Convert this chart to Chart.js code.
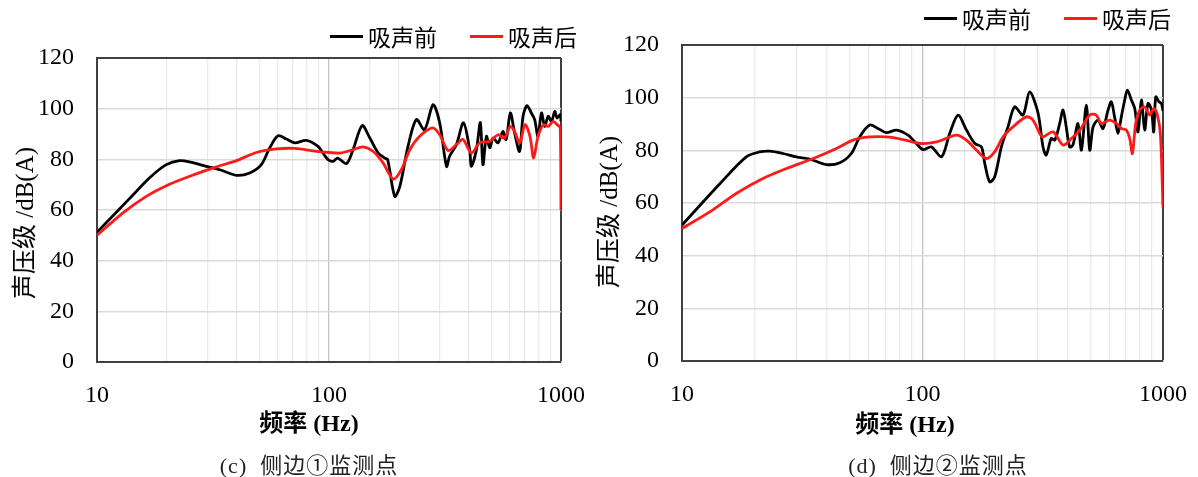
<!DOCTYPE html>
<html lang="zh">
<head>
<meta charset="utf-8">
<script src="https://cdn.jsdelivr.net/npm/chart.js@4.4.1/dist/chart.umd.min.js"></script>
<style>
    body {
        margin: 0;
        width: 1198px;
        height: 477px;
        background: #fff;
        position: relative;
        overflow: hidden;
        font-family: "Liberation Serif", "Noto Sans CJK SC", serif;
        color: #000;
    }
    canvas { position: absolute; top: 0; }
    #chartC { left: 0; }
    #chartD { left: 599px; }
    .legend {
        position: absolute;
        display: flex;
        align-items: center;
        font-family: "Noto Sans CJK SC", sans-serif;
        font-size: 23px;
        line-height: 26px;
        white-space: nowrap;
    }
    .legend .swatch { width: 33px; height: 3px; margin-right: 5px; }
    .legend .gap { width: 33px; }
    .ytitle, .xtitle, .caption {
        position: absolute;
        white-space: nowrap;
        transform: translate(-50%, -50%);
    }
    .ytitle { font-size: 25px; transform: translate(-50%, -50%) rotate(-90deg); }
    .xtitle { font-size: 24px; font-weight: bold; }
    .caption { font-size: 22px; letter-spacing: 1px; color: #222; }
</style>
</head>
<body>
<canvas id="chartC" width="599" height="477"></canvas>
<canvas id="chartD" width="599" height="477"></canvas>

<div class="legend" style="left:330px; top:23px;">
    <span class="swatch" style="background:#000"></span><span>吸声前</span>
    <span class="gap"></span>
    <span class="swatch" style="background:#ff1a1a"></span><span>吸声后</span>
</div>
<div class="legend" style="left:924px; top:5px;">
    <span class="swatch" style="background:#000"></span><span>吸声前</span>
    <span class="gap"></span>
    <span class="swatch" style="background:#ff1a1a"></span><span>吸声后</span>
</div>

<div class="ytitle" style="left:22px; top:223px;">声压级 /dB(A)</div>
<div class="ytitle" style="left:606px; top:212px;">声压级 /dB(A)</div>
<div class="xtitle" style="left:309px; top:420px;">频率 (Hz)</div>
<div class="xtitle" style="left:905px; top:421px;">频率 (Hz)</div>
<div class="caption" style="left:309px; top:463px;">(c)&nbsp; 侧边①监测点</div>
<div class="caption" style="left:938px; top:463px;">(d)&nbsp; 侧边②监测点</div>

<script>
// (c) side monitoring point 1
const freqBeforeC = [10, 13.8, 17, 19.9, 22.7, 25.1, 29.6, 33.8, 39.9, 45.5, 51.1, 55.5, 60.3, 65.5, 71.1, 79.9, 89.7, 95, 99, 104, 109, 119, 127, 139, 150, 163, 174, 179, 192, 202, 219, 238, 258, 281, 300, 321, 331, 354, 380, 404, 411, 432, 449, 461, 477, 493, 510, 535, 562, 580, 605, 631, 663, 686, 714, 745, 770, 796, 824, 851, 880, 910, 940, 962, 992, 1000];
const levelBeforeC = [51.2, 64.5, 73, 77.9, 79.5, 79, 77.2, 75.9, 73.7, 74.6, 77.9, 84.5, 89.3, 88, 86.5, 87.5, 85.1, 82, 79.9, 79.2, 80.5, 78.3, 83.8, 93.3, 88.4, 82.5, 80.5, 79.9, 65.4, 69.3, 85.1, 95.7, 91.7, 101.6, 94.4, 77.2, 81.2, 85.8, 94.4, 83.8, 77.2, 83.8, 94.5, 77.9, 89.1, 84.5, 88.4, 86.5, 91, 87.8, 98.3, 90.4, 83.1, 97, 101.2, 98.3, 95.7, 89.1, 98.3, 93, 97, 95, 98.9, 96.3, 97.6, 95];
const freqAfterC = [10, 12.9, 16.3, 19.9, 25.1, 32.7, 39.9, 48.6, 59.3, 71.1, 88.3, 100, 112, 127, 140, 155, 171, 189, 205, 223, 246, 280, 300, 326, 354, 378, 411, 446, 493, 535, 571, 605, 631, 663, 700, 735, 762, 796, 840, 880, 925, 962, 992, 1000];
const levelAfterC = [50, 58.8, 65.4, 69.6, 73.3, 77, 79.5, 82.7, 84.1, 84.3, 83.1, 82.7, 82.5, 83.8, 84.9, 83.1, 78.6, 72.2, 75.9, 83.8, 89.1, 92.4, 89.7, 83.5, 85.8, 87.8, 82.5, 86.5, 87.1, 89.7, 88.4, 93, 91, 86.5, 93.7, 89.1, 80.5, 89.1, 93.7, 93, 95, 93.7, 92.4, 60];

// (d) side monitoring point 2
const freqBeforeD = [10, 14.4, 18.5, 21, 23.2, 26.3, 29.9, 34, 39.8, 45.3, 50.6, 54.8, 60.3, 65.3, 70.8, 77.9, 87, 94.3, 100.5, 108.9, 120, 129.7, 140.6, 152.3, 165, 175.8, 181.5, 190.3, 199.5, 212.8, 226.7, 241.7, 261.6, 279, 302, 317, 327, 343, 355, 372, 384, 396, 409, 422, 443, 458, 480, 496, 512, 537, 563, 591, 610, 629, 650, 671, 693, 711, 739, 763, 787, 813, 839, 866, 895, 915, 933, 963, 985, 1000];
const levelBeforeD = [51.6, 67.4, 77.5, 79.4, 79.7, 78.8, 77.5, 76.7, 74.6, 75.3, 78.8, 85.1, 89.6, 88.3, 86.7, 87.7, 85.8, 82.6, 80.3, 81.3, 77.5, 86.4, 93.4, 87.7, 82.6, 81.3, 75, 68, 69.9, 81.3, 88.9, 96.5, 93.4, 102.2, 94.3, 81.3, 78.2, 84.5, 83.9, 90.2, 95.3, 88.9, 81.3, 82, 90.2, 80.1, 97.2, 80.1, 88.9, 91.5, 88.3, 95.3, 98.4, 92.7, 86.4, 92.7, 99.1, 102.9, 99.1, 95.9, 87, 99.1, 87.7, 97.8, 95.3, 87, 100.3, 98.4, 97.8, 95];
const freqAfterD = [10, 13.4, 16.8, 21.7, 27.2, 35.1, 43.9, 51.4, 60.3, 70.8, 83, 97.8, 114.3, 138.4, 152.3, 167.5, 184.3, 199.5, 216.3, 237.8, 270, 288, 307, 317, 349, 384, 416, 451, 496, 528, 554, 600, 640, 671, 704, 727, 746, 770, 800, 839, 881, 915, 944, 975, 1000];
const levelAfterD = [50.3, 57.3, 63.6, 69.3, 73.1, 76.9, 80.7, 83.9, 85.1, 85.1, 84.1, 82.6, 83.2, 85.8, 83.9, 80.1, 76.9, 79.4, 85.1, 88.9, 92.7, 91.5, 86.4, 85.1, 87, 82, 84.5, 87.7, 93.4, 93.4, 90.2, 91.5, 90.2, 88.3, 87.7, 84.5, 78.8, 90.2, 95.3, 96.5, 93.4, 95.9, 94, 86.4, 58];

const seriesNames = ["吸声前", "吸声后"];
const yTicks = [0, 20, 40, 60, 80, 100, 120];
const xLabelled = [10, 100, 1000];

const toPoints = (xs, ys) => xs.map((x, i) => ({ x, y: ys[i] }));

function buildChart(id, before, after, box) {
    new Chart(document.getElementById(id), {
        type: "line",
        data: {
            datasets: [
                {
                    label: seriesNames[0],
                    data: before,
                    borderColor: "#000000",
                    borderWidth: 2.8,
                    pointRadius: 0,
                    tension: 0.3,
                    order: 1
                },
                {
                    label: seriesNames[1],
                    data: after,
                    borderColor: "#ff1a1a",
                    borderWidth: 2.8,
                    pointRadius: 0,
                    tension: 0.3,
                    order: 0
                }
            ]
        },
        options: {
            responsive: false,
            animation: false,
            layout: { padding: { left: 0, top: box.top, right: box.right, bottom: 0 } },
            plugins: {
                legend: { display: false },
                tooltip: { enabled: false }
            },
            scales: {
                x: {
                    type: "logarithmic",
                    min: 10,
                    max: 1000,
                    afterFit: (scale) => {
                        scale.height = box.xHeight;
                        scale.paddingLeft = 0;
                        scale.paddingRight = 0;
                    },
                    border: { display: true, color: "#404040", width: 2 },
                    grid: {
                        drawTicks: false,
                        color: (ctx) => {
                            const v = ctx.tick && ctx.tick.value;
                            if (v === 1000) return "#404040";
                            if (v === 100) return "#c4c4c4";
                            return "#ebebeb";
                        },
                        lineWidth: (ctx) => (ctx.tick && ctx.tick.value === 1000 ? 2 : 1.3)
                    },
                    ticks: {
                        autoSkip: false,
                        maxRotation: 0,
                        padding: box.xPad,
                        color: "#000",
                        font: { family: "Liberation Serif", size: 24 },
                        callback: (value) => (xLabelled.includes(Math.round(value)) && Math.abs(value - Math.round(value)) < 1e-6 ? String(Math.round(value)) : "")
                    }
                },
                y: {
                    min: yTicks[0],
                    max: yTicks[yTicks.length - 1],
                    afterFit: (scale) => {
                        scale.width = box.yWidth;
                        scale.paddingTop = 0;
                        scale.paddingBottom = 0;
                    },
                    border: { display: true, color: "#404040", width: 2 },
                    grid: {
                        drawTicks: false,
                        color: (ctx) => (ctx.tick && ctx.tick.value === 120 ? "#404040" : "#d9d9d9"),
                        lineWidth: (ctx) => (ctx.tick && ctx.tick.value === 120 ? 2 : 1.6)
                    },
                    ticks: {
                        stepSize: 20,
                        padding: 23,
                        color: "#000",
                        font: { family: "Liberation Serif", size: 24 }
                    }
                }
            }
        }
    });
}

document.addEventListener("DOMContentLoaded", () => {
    buildChart("chartC", toPoints(freqBeforeC, levelBeforeC), toPoints(freqAfterC, levelAfterC),
        { top: 58, right: 38, xHeight: 115, yWidth: 97, xPad: 19 });
    buildChart("chartD", toPoints(freqBeforeD, levelBeforeD), toPoints(freqAfterD, levelAfterD),
        { top: 45, right: 35, xHeight: 116, yWidth: 83, xPad: 19 });
});
</script>
</body>
</html>
